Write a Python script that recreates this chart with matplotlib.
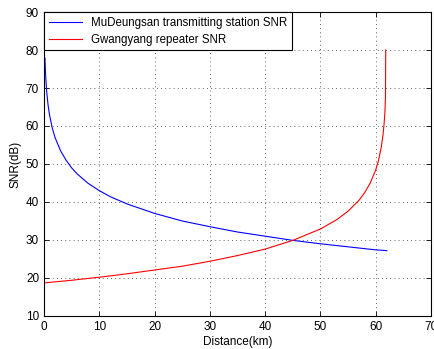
import numpy as np
from matplotlib import pyplot as plt

plt.rcParams['font.family'] = ['Liberation Sans', 'DejaVu Sans']

# Distancia (km) y SNR (dB)
dist_mu = [0.18, 0.3, 0.5, 0.75, 1, 1.5, 2, 3, 4, 5, 6, 8, 10, 12, 15, 20,
           25, 30, 35, 40, 45, 50, 55, 60, 62]
snr_mu = [77.9, 73.5, 69.0, 65.5, 63.0, 59.5, 57.0, 53.5, 51.0, 49.0, 47.4,
          44.9, 43.0, 41.4, 39.5, 37.0, 35.0, 33.5, 32.1, 31.0, 29.9, 29.0,
          28.2, 27.4, 27.2]

dist_gw = [0, 5, 10, 15, 20, 25, 30, 35, 40, 45, 50, 53, 55, 57, 58, 59, 60,
           60.5, 61, 61.3, 61.5, 61.65, 61.75, 61.8]
snr_gw = [18.7, 19.4, 20.2, 21.1, 22.1, 23.1, 24.4, 25.9, 27.6, 29.9, 32.9,
          35.4, 37.6, 40.5, 42.5, 45.0, 48.5, 51.0, 54.5, 57.6, 60.5, 63.6,
          67.5, 80.0]

label_mu = 'MuDeungsan transmitting station SNR'
label_gw = 'Gwangyang repeater SNR'

fig = plt.figure(figsize=(4.35, 3.49), dpi=100)
ax = fig.add_axes([0.101, 0.0946, 0.890, 0.871])

ax.plot(dist_mu, snr_mu, color='#0000ff', linewidth=0.8, label=label_mu)
ax.plot(dist_gw, snr_gw, color='#ff0000', linewidth=0.8, label=label_gw)

ax.set_xlim(0, 70)
ax.set_ylim(10, 90)
ax.set_xticks(np.arange(0, 71, 10))
ax.set_yticks(np.arange(10, 91, 10))
ax.grid(True, color='#333333', linestyle=(0, (1, 4)), linewidth=0.6)
ax.tick_params(direction='in', top=True, right=True, length=3.5,
               labelsize=8.5, width=0.6)
for s in ax.spines.values():
    s.set_linewidth(0.8)

ax.set_xlabel('Distance(km)', fontsize=8.5, labelpad=2)
ax.set_ylabel('SNR(dB)', fontsize=8.5, labelpad=3)

leg = ax.legend(loc='upper left', borderaxespad=0, fancybox=False,
                framealpha=1, edgecolor='black', fontsize=8.3,
                handlelength=2.9, labelspacing=0.45, borderpad=0.4)
leg.get_frame().set_linewidth(0.8)

plt.savefig('out.png')
